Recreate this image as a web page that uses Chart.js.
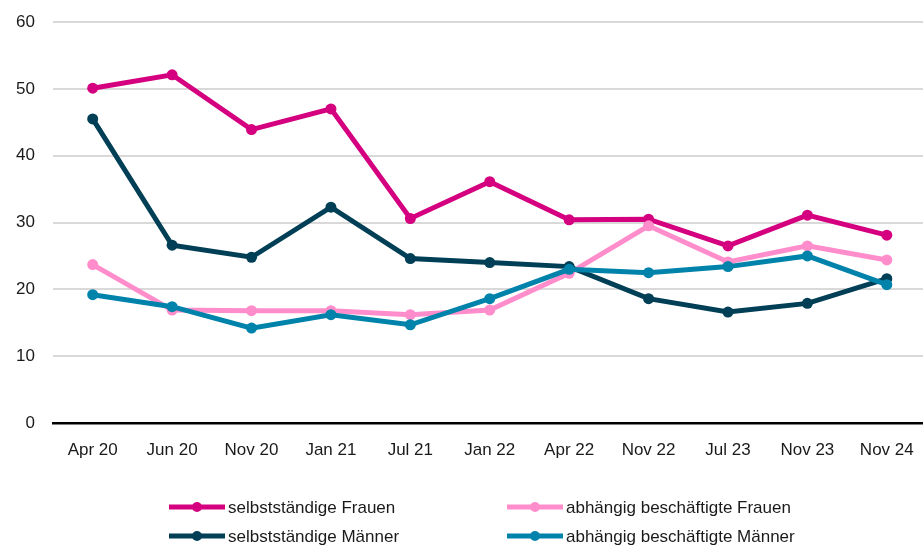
<!DOCTYPE html>
<html>
<head>
<meta charset="utf-8">
<script src="https://cdn.jsdelivr.net/npm/chart.js@4"></script>
<style>
  html, body { margin: 0; padding: 0; background: #fff; overflow: hidden; }
  #wrap { width: 923px; height: 549px; overflow: hidden; }
  canvas { display: block; }
</style>
</head>
<body>
<div id="wrap"><canvas id="chart" width="932" height="549"></canvas></div>
<script>
const labels = ["Apr 20", "Jun 20", "Nov 20", "Jan 21", "Jul 21", "Jan 22", "Apr 22", "Nov 22", "Jul 23", "Nov 23", "Nov 24"];
const selbstFrauen = [50.1, 52.1, 43.9, 47.0, 30.6, 36.1, 30.4, 30.5, 26.5, 31.1, 28.1];
const abhFrauen = [23.7, 16.9, 16.8, 16.8, 16.2, 16.9, 22.4, 29.5, 24.1, 26.5, 24.4];
const selbstMaenner = [45.5, 26.6, 24.8, 32.3, 24.6, 24.0, 23.4, 18.6, 16.6, 17.9, 21.6];
const abhMaenner = [19.2, 17.4, 14.2, 16.2, 14.7, 18.6, 23.0, 22.5, 23.4, 25.0, 20.7];

const fontFam = "'Liberation Sans', Arial, sans-serif";
const fontSize = 17;

function series(label, data, color) {
  return {
    label: label,
    data: data,
    borderColor: color,
    backgroundColor: color,
    borderWidth: 5,
    pointRadius: 5.5,
    pointHoverRadius: 5.5,
    pointBorderWidth: 0,
    tension: 0
  };
}

// legend in 2 columns, drawn by hand
const legendOrder = ["selbstständige Frauen", "abhängig beschäftigte Frauen", "selbstständige Männer", "abhängig beschäftigte Männer"];
const legend2col = {
  id: "legend2col",
  afterDraw(chart) {
    const ctx = chart.ctx;
    const cols = [169, 507];
    const rows = [507, 536];
    ctx.save();
    ctx.font = fontSize + "px " + fontFam;
    ctx.textBaseline = "middle";
    legendOrder.forEach((name, i) => {
      const ds = chart.data.datasets.find(d => d.label === name);
      const x = cols[i % 2], y = rows[Math.floor(i / 2)];
      ctx.strokeStyle = ds.borderColor;
      ctx.lineWidth = 5;
      ctx.beginPath();
      ctx.moveTo(x, y);
      ctx.lineTo(x + 56, y);
      ctx.stroke();
      ctx.fillStyle = ds.borderColor;
      ctx.beginPath();
      ctx.arc(x + 28, y, 5, 0, Math.PI * 2);
      ctx.fill();
      ctx.fillStyle = "#1a1a1a";
      ctx.fillText(ds.label, x + 59, y + 1);
    });
    ctx.restore();
  }
};

new Chart("chart", {
  type: "line",
  data: {
    labels: labels,
    // drawn back to front: last one in the list ends up on top
    datasets: [
      series("abhängig beschäftigte Männer", abhMaenner, "#0083aa"),
      series("abhängig beschäftigte Frauen", abhFrauen, "#ff8dcb"),
      series("selbstständige Männer", selbstMaenner, "#003f56"),
      series("selbstständige Frauen", selbstFrauen, "#d5007f")
    ]
  },
  options: {
    responsive: false,
    animation: false,
    layout: { padding: { top: 22, right: 0, bottom: 81, left: 0 } },
    plugins: {
      legend: { display: false },
      tooltip: { enabled: false }
    },
    scales: {
      x: {
        offset: true,
        grid: { display: false, drawTicks: false },
        border: { color: "#000", width: 2.5 },
        ticks: { color: "#1a1a1a", font: { size: fontSize, family: fontFam }, padding: 17, maxRotation: 0, autoSkip: false },
        afterFit(s) { s.height = 45; s.paddingLeft = 0; s.paddingRight = 0; }
      },
      y: {
        min: 0,
        max: 60,
        grid: {
          color: (c) => c.tick.value === 0 ? "rgba(0,0,0,0)" : "#d9d9d9",
          lineWidth: 2,
          drawTicks: false
        },
        border: { display: false },
        ticks: { stepSize: 10, color: "#1a1a1a", font: { size: fontSize, family: fontFam }, padding: 18 },
        afterFit(s) { s.width = 53; s.paddingTop = 0; s.paddingBottom = 0; }
      }
    }
  },
  plugins: [legend2col]
});
</script>
</body>
</html>
